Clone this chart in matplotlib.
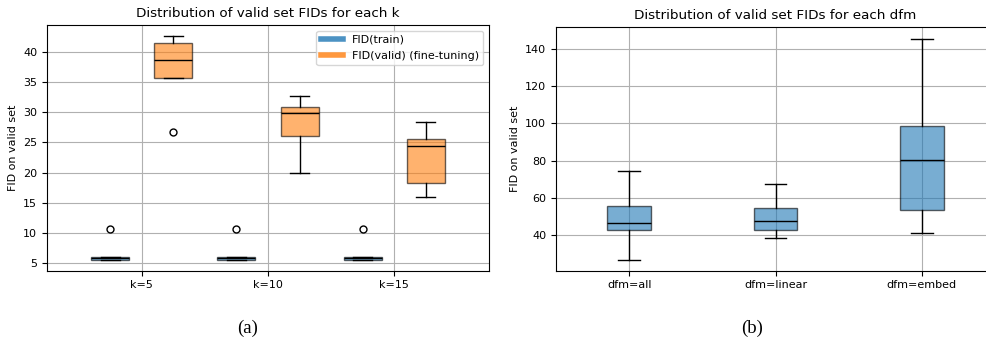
import matplotlib
matplotlib.use("Agg")
import matplotlib.pyplot as plt
from matplotlib.lines import Line2D

# ---- panel (a): FID per k ----
k_labels = ["k=5", "k=10", "k=15"]
k_pos = [1, 2, 3]

# FID(train): box summary per k
train_whislo = [5.6, 5.6, 5.6]
train_q1 = [5.6, 5.6, 5.6]
train_med = [5.85, 5.85, 5.85]
train_q3 = [6.05, 6.05, 6.05]
train_whishi = [6.1, 6.1, 6.1]
train_fliers = [[10.7], [10.7], [10.7]]

# FID(valid) (fine-tuning): box summary per k
valid_whislo = [35.6, 19.9, 16.0]
valid_q1 = [35.6, 26.05, 18.3]
valid_med = [38.6, 29.9, 24.35]
valid_q3 = [41.4, 30.8, 25.6]
valid_whishi = [42.6, 32.7, 28.4]
valid_fliers = [[26.7], [], []]

# ---- panel (b): FID per dfm ----
dfm_labels = ["dfm=all", "dfm=linear", "dfm=embed"]
dfm_whislo = [26.8, 38.6, 41.4]
dfm_q1 = [42.8, 42.5, 53.7]
dfm_med = [46.75, 47.5, 80.5]
dfm_q3 = [55.9, 54.8, 98.4]
dfm_whishi = [74.6, 67.6, 145.5]


def make_stats(lo, q1, med, q3, hi, fl=None):
    out = []
    for i in range(len(med)):
        out.append(dict(whislo=lo[i], q1=q1[i], med=med[i], q3=q3[i],
                        whishi=hi[i], fliers=fl[i] if fl else []))
    return out


def style(bp, color):
    for b in bp["boxes"]:
        b.set_facecolor(color)
        b.set_edgecolor("black")
        b.set_alpha(0.6)
    for m in bp["medians"]:
        m.set_color("black")
        m.set_linewidth(1.0)
    for w in bp["whiskers"] + bp["caps"]:
        w.set_color("black")
        w.set_linewidth(1.0)


plt.rcParams["font.size"] = 8
fig = plt.figure(figsize=(9.87, 3.37), dpi=100)
W, H = 987, 337

ax1 = fig.add_axes([47 / W, 1 - 270.7 / H, (489 - 47) / W, (270.7 - 25) / H])
ax2 = fig.add_axes([556 / W, 1 - 270.7 / H, (995 - 556) / W, (270.7 - 27) / H])

flier = dict(marker="o", markerfacecolor="none", markeredgecolor="black",
             markersize=5)

bp = ax1.bxp(make_stats(train_whislo, train_q1, train_med, train_q3,
                        train_whishi, train_fliers),
             positions=[p - 0.25 for p in k_pos], widths=0.3,
             patch_artist=True, flierprops=flier, manage_ticks=False)
style(bp, "C0")
bp = ax1.bxp(make_stats(valid_whislo, valid_q1, valid_med, valid_q3,
                        valid_whishi, valid_fliers),
             positions=[p + 0.25 for p in k_pos], widths=0.3,
             patch_artist=True, flierprops=flier, manage_ticks=False)
style(bp, "C1")
ax1.set_xlim(0.25, 3.75)
ax1.set_ylim(3.78, 44.4)
ax1.set_xticks(k_pos)
ax1.set_xticklabels(k_labels)
ax1.set_yticks([5, 10, 15, 20, 25, 30, 35, 40])
ax1.grid(True)
ax1.set_ylabel("FID on valid set")
ax1.set_title("Distribution of valid set FIDs for each k", fontsize=9.7)
handles = [Line2D([], [], color="C0", lw=4, alpha=0.8),
           Line2D([], [], color="C1", lw=4, alpha=0.8)]
ax1.legend(handles, ["FID(train)", "FID(valid) (fine-tuning)"],
           loc="upper right", fontsize=8)

bp = ax2.bxp(make_stats(dfm_whislo, dfm_q1, dfm_med, dfm_q3, dfm_whishi),
             positions=[1, 2, 3], widths=0.3, patch_artist=True,
             manage_ticks=False)
style(bp, "C0")
ax2.set_xlim(0.5, 3.5)
ax2.set_ylim(20.9, 151.8)
ax2.set_xticks([1, 2, 3])
ax2.set_xticklabels(dfm_labels)
ax2.grid(True)
ax2.set_ylabel("FID on valid set")
ax2.set_title("Distribution of valid set FIDs for each dfm", fontsize=9.7)

fig.text(248 / W, 1 - 328 / H, "(a)", ha="center", va="center",
         family="Liberation Serif", fontsize=13.5)
fig.text(752 / W, 1 - 328 / H, "(b)", ha="center", va="center",
         family="Liberation Serif", fontsize=13.5)

fig.savefig("out.png", dpi=100)
